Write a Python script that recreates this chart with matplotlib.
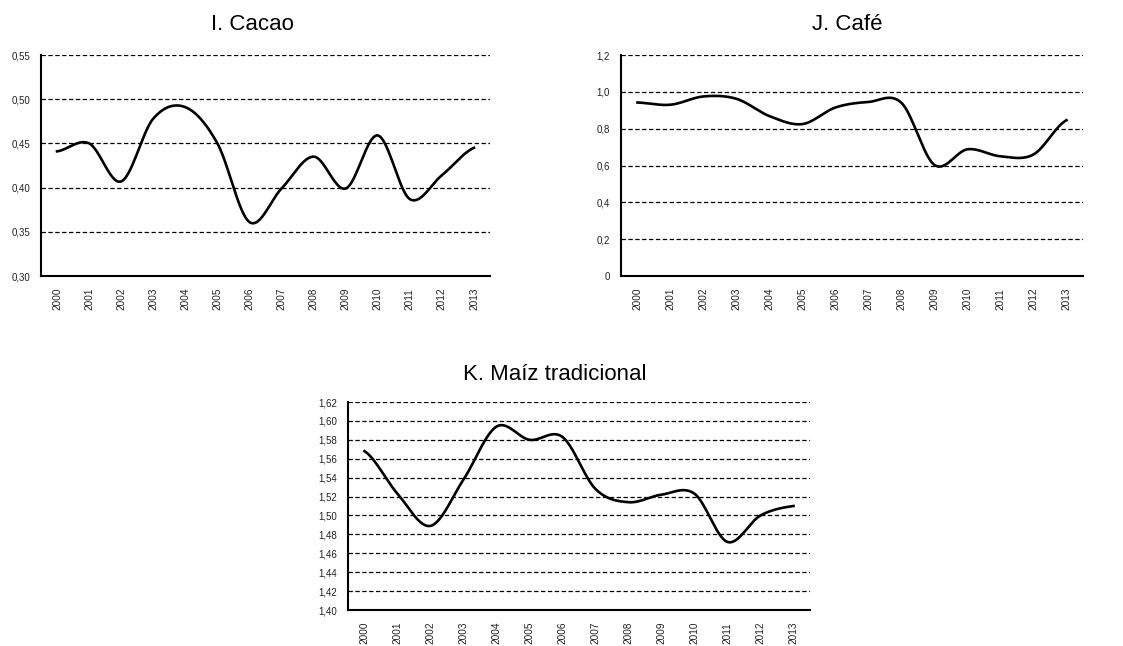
import numpy as np
import matplotlib.pyplot as plt

plt.rcParams['font.family'] = ['Liberation Sans', 'DejaVu Sans']

years = [str(y) for y in range(2000, 2014)]
cacao = [0.441, 0.450, 0.407, 0.478, 0.491, 0.450, 0.361, 0.399, 0.435, 0.399, 0.459, 0.387, 0.414, 0.445]
cafe = [0.942, 0.930, 0.975, 0.962, 0.868, 0.825, 0.915, 0.945, 0.940, 0.603, 0.688, 0.650, 0.660, 0.846]
maiz = [1.568, 1.523, 1.489, 1.538, 1.594, 1.580, 1.583, 1.528, 1.514, 1.522, 1.523, 1.472, 1.500, 1.510]


def smooth(y, n=30):
    # Excel-style smoothed line (Catmull-Rom through the points)
    y = np.asarray(y, dtype=float)
    p = np.concatenate([[y[0]], y, [y[-1]]])
    xs, ys = [], []
    t = np.linspace(0, 1, n, endpoint=False)
    for i in range(len(y) - 1):
        p0, p1, p2, p3 = p[i], p[i + 1], p[i + 2], p[i + 3]
        seg = 0.5 * ((2 * p1) + (-p0 + p2) * t + (2 * p0 - 5 * p1 + 4 * p2 - p3) * t ** 2
                     + (-p0 + 3 * p1 - 3 * p2 + p3) * t ** 3)
        xs.append(i + t)
        ys.append(seg)
    xs.append([len(y) - 1])
    ys.append([y[-1]])
    return np.concatenate(xs), np.concatenate(ys)


def panel(ax, values, yticks, ylabels):
    x, y = smooth(values)
    ax.plot(x, y, color='black', lw=1.9)
    ax.set_xlim(-0.5, len(years) - 0.5)
    ax.set_ylim(yticks[0], yticks[-1])
    ax.set_xticks(range(len(years)))
    ax.set_xticklabels(years, rotation=90, fontsize=7.2, color='#222222')
    ax.set_yticks(yticks)
    ax.set_yticklabels(ylabels, fontsize=7, color='#222222')
    ax.tick_params(axis='y', length=0, pad=8)
    ax.tick_params(axis='x', length=0, pad=8.5)
    for s in ['top', 'right']:
        ax.spines[s].set_visible(False)
    for s in ['left', 'bottom']:
        ax.spines[s].set_linewidth(1.5)
    for v in yticks[1:]:
        ax.axhline(v, color='black', lw=0.9, ls=(0, (3.5, 2)), zorder=0)


fig = plt.figure(figsize=(11.23, 6.46), dpi=100)
W, H = 1123, 646


def add(l, t, r, b):
    return fig.add_axes([l / W, 1 - b / H, (r - l) / W, (b - t) / H])


ax1 = add(41, 55, 490, 276)
ax2 = add(621, 55, 1083, 276)
ax3 = add(348, 402, 810, 610)

yt1 = [0.30, 0.35, 0.40, 0.45, 0.50, 0.55]
panel(ax1, cacao, yt1, [f'{v:.2f}'.replace('.', ',') for v in yt1])
yt2 = [0, 0.2, 0.4, 0.6, 0.8, 1.0, 1.2]
panel(ax2, cafe, yt2, ['0'] + [f'{v:.1f}'.replace('.', ',') for v in yt2[1:]])
yt3 = [1.40 + 0.02 * i for i in range(12)]
panel(ax3, maiz, yt3, [f'{v:.2f}'.replace('.', ',') for v in yt3])

fig.text(252 / W, 1 - 24 / H, 'I. Cacao', fontsize=16, ha='center', va='center')
fig.text(847 / W, 1 - 24 / H, 'J. Café', fontsize=16, ha='center', va='center')
fig.text(555 / W, 1 - 375 / H, 'K. Maíz tradicional', fontsize=16, ha='center', va='center')

fig.savefig('out.png', dpi=100)
